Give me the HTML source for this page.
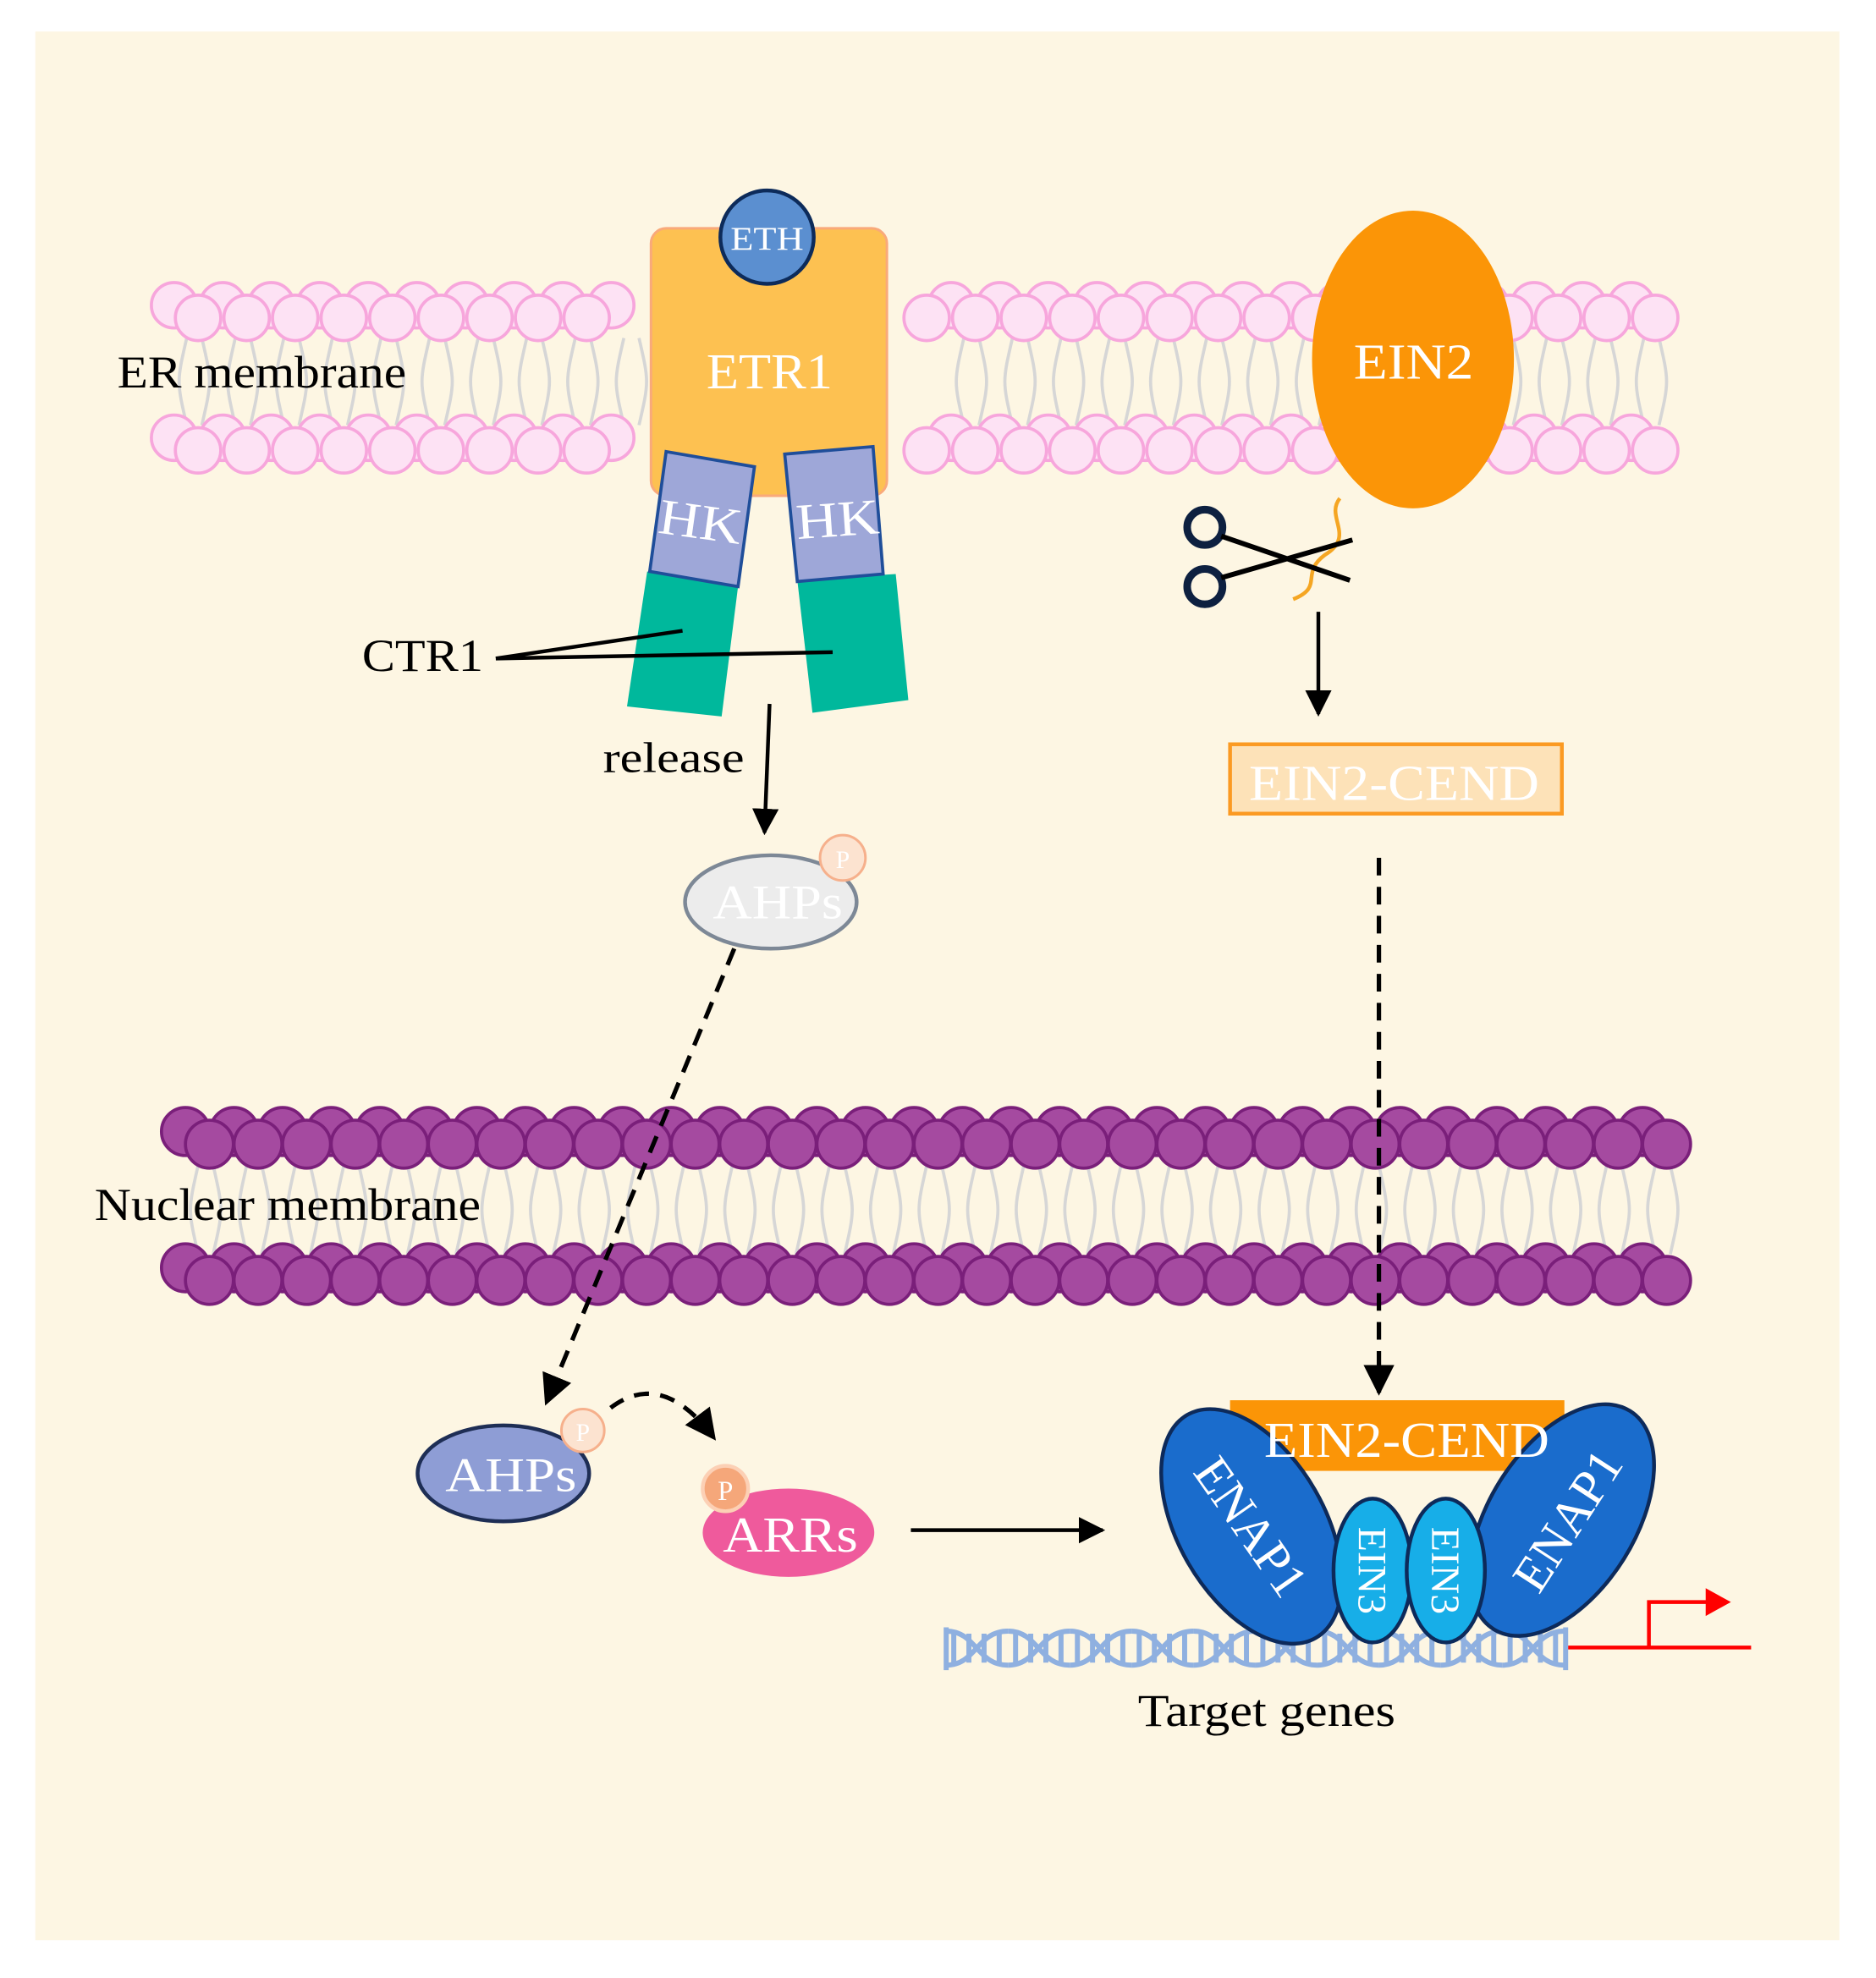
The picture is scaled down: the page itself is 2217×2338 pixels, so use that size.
<!DOCTYPE html>
<html><head><meta charset="utf-8"><style>
html,body{margin:0;padding:0;background:#fff;}
svg{display:block}
text{font-family:"Liberation Serif",serif;}
</style></head><body>
<svg id="s" xmlns="http://www.w3.org/2000/svg" width="2217" height="2338" viewBox="0 0 1487 1568" preserveAspectRatio="none">
<defs>
<marker id="ah" viewBox="0 0 10 10" refX="9" refY="5" markerWidth="7" markerHeight="7" orient="auto"><path d="M0,0 L10,5 L0,10 z" fill="#000"/></marker>
</defs>
<rect x="28" y="25" width="1430" height="1513" fill="#fdf6e3"/>
<g id="er"></g>
<g id="nm"></g>

<!-- ETR1 -->
<rect x="516" y="181" width="187" height="212" rx="12" fill="#fdc151" stroke="#f9a97a" stroke-width="2"/>
<text x="560" y="308" font-size="40" fill="#fff" textLength="100" lengthAdjust="spacingAndGlyphs">ETR1</text>
<circle cx="608" cy="188" r="37" fill="#5b8fd0" stroke="#0d2b5a" stroke-width="3"/>
<text x="579" y="198" font-size="26" fill="#fff" textLength="58" lengthAdjust="spacingAndGlyphs">ETH</text>
<!-- HK + CTR1 -->
<polygon points="513,453 585,465 572,568 497,560" fill="#00b89c"/>
<polygon points="632,460 710,455 720,555 644,565" fill="#00b89c"/>
<polygon points="528,358 598,370 585,465 515,453" fill="#9ea7d8" stroke="#1f4e9a" stroke-width="2.5"/>
<polygon points="622,360 692,354 700,455 632,461" fill="#9ea7d8" stroke="#1f4e9a" stroke-width="2.5"/>
<text x="522" y="427" font-size="40" fill="#fff" textLength="66" lengthAdjust="spacingAndGlyphs" transform="rotate(8 556 415)">HK</text>
<text x="631" y="425" font-size="40" fill="#fff" textLength="66" lengthAdjust="spacingAndGlyphs" transform="rotate(-4 664 413)">HK</text>
<text x="93" y="307" font-size="36" fill="#000" textLength="229" lengthAdjust="spacingAndGlyphs">ER membrane</text>
<text x="287" y="532" font-size="36" fill="#000" textLength="96" lengthAdjust="spacingAndGlyphs">CTR1</text>
<line x1="393" y1="522" x2="541" y2="500" stroke="#000" stroke-width="3"/>
<line x1="393" y1="522" x2="660" y2="517" stroke="#000" stroke-width="3"/>
<text x="478" y="612" font-size="34" fill="#000" textLength="112" lengthAdjust="spacingAndGlyphs">release</text>
<line x1="610" y1="558" x2="606" y2="660" stroke="#000" stroke-width="3" marker-end="url(#ah)"/>
<!-- AHPs top -->
<ellipse cx="611" cy="715" rx="68" ry="37" fill="#ececec" stroke="#7d8896" stroke-width="3"/>
<text x="565" y="728" font-size="38" fill="#fff" textLength="103" lengthAdjust="spacingAndGlyphs">AHPs</text>
<circle cx="668" cy="680" r="18" fill="#fce3d0" stroke="#f6b08c" stroke-width="2"/>
<text x="668" y="688" font-size="20" fill="#fff" text-anchor="middle">P</text>
<line x1="582" y1="752" x2="433" y2="1112" stroke="#000" stroke-width="3.5" stroke-dasharray="14,9" marker-end="url(#ah)"/>

<!-- EIN2 -->
<ellipse cx="1120" cy="285" rx="80" ry="118" fill="#fb9507"/>
<text x="1073" y="300" font-size="40" fill="#fff" textLength="95" lengthAdjust="spacingAndGlyphs">EIN2</text>
<path d="M1062,395 C1050,410 1075,425 1050,440 C1030,455 1050,465 1025,475" fill="none" stroke="#f5a623" stroke-width="3"/>
<circle cx="955" cy="418" r="14" fill="none" stroke="#0d2040" stroke-width="6"/>
<circle cx="955" cy="465" r="14" fill="none" stroke="#0d2040" stroke-width="6"/>
<line x1="968" y1="425" x2="1070" y2="460" stroke="#000" stroke-width="4"/>
<line x1="968" y1="458" x2="1072" y2="428" stroke="#000" stroke-width="4"/>
<line x1="1045" y1="485" x2="1045" y2="566" stroke="#000" stroke-width="3" marker-end="url(#ah)"/>
<rect x="975" y="590" width="263" height="55" fill="#fde2b8" stroke="#fb9a22" stroke-width="3"/>
<text x="990" y="634" font-size="40" fill="#fff" textLength="230" lengthAdjust="spacingAndGlyphs">EIN2-CEND</text>
<line x1="1093" y1="680" x2="1093" y2="1104" stroke="#000" stroke-width="3.5" stroke-dasharray="14,9" marker-end="url(#ah)"/>

<text x="75" y="967" font-size="36" fill="#000" textLength="306" lengthAdjust="spacingAndGlyphs">Nuclear membrane</text>

<!-- AHPs lower -->
<ellipse cx="399" cy="1168" rx="68" ry="38" fill="#8e9dd5" stroke="#1e2e55" stroke-width="3"/>
<text x="353" y="1182" font-size="38" fill="#fff" textLength="104" lengthAdjust="spacingAndGlyphs">AHPs</text>
<circle cx="462" cy="1134" r="17" fill="#fce3d0" stroke="#f6b08c" stroke-width="2"/>
<text x="462" y="1142" font-size="20" fill="#fff" text-anchor="middle">P</text>
<path d="M484,1116 Q525,1085 566,1140" fill="none" stroke="#000" stroke-width="3.5" stroke-dasharray="12,9" marker-end="url(#ah)"/>
<ellipse cx="625" cy="1215" rx="68" ry="35" fill="#ef5a9c"/>
<text x="573" y="1230" font-size="40" fill="#fff" textLength="107" lengthAdjust="spacingAndGlyphs">ARRs</text>
<circle cx="575" cy="1180" r="18" fill="#f5a77a" stroke="#fcd0b5" stroke-width="3"/>
<text x="575" y="1189" font-size="22" fill="#fff" text-anchor="middle">P</text>
<line x1="722" y1="1213" x2="874" y2="1213" stroke="#000" stroke-width="3" marker-end="url(#ah)"/>

<!-- DNA -->
<g id="dna" stroke="#8fb0e0" fill="none"></g>
<path d="M1243,1306 H1388 M1307,1306 V1270 H1355" stroke="#f00" stroke-width="3" fill="none"/>
<polygon points="1352,1259 1372,1270 1352,1281" fill="#f00"/>
<!-- complex -->
<rect x="975" y="1110" width="265" height="56" fill="#fb9507"/>
<ellipse cx="992" cy="1210" rx="58" ry="102" transform="rotate(-30 992 1210)" fill="#1a6ccc" stroke="#0d2a5a" stroke-width="3"/>
<ellipse cx="1238" cy="1205" rx="58" ry="102" transform="rotate(32 1238 1205)" fill="#1a6ccc" stroke="#0d2a5a" stroke-width="3"/>
<ellipse cx="1088" cy="1245" rx="31" ry="57" fill="#17aee8" stroke="#0d2a5a" stroke-width="3"/>
<ellipse cx="1146" cy="1245" rx="31" ry="57" fill="#17aee8" stroke="#0d2a5a" stroke-width="3"/>
<text x="1002" y="1155" font-size="40" fill="#fff" textLength="226" lengthAdjust="spacingAndGlyphs">EIN2-CEND</text>
<text x="992" y="1224" font-size="40" fill="#fff" text-anchor="middle" transform="rotate(55 992 1210)">ENAP1</text>
<text x="1242" y="1219" font-size="40" fill="#fff" text-anchor="middle" transform="rotate(-57 1242 1205)">ENAP1</text>
<text x="1088" y="1256" font-size="32" fill="#fff" text-anchor="middle" transform="rotate(90 1088 1245)">EIN3</text>
<text x="1146" y="1256" font-size="32" fill="#fff" text-anchor="middle" transform="rotate(90 1146 1245)">EIN3</text>
<text x="902" y="1368" font-size="36" fill="#000" textLength="204" lengthAdjust="spacingAndGlyphs">Target genes</text>
</svg>
<script>
var NS="http://www.w3.org/2000/svg";
function el(p,t,a){var e=document.createElementNS(NS,t);for(var k in a)e.setAttribute(k,a[k]);p.appendChild(e);return e;}
function mem(id,x0,x1,yTop,yBot,r,fill,stroke,skip){
 var g=document.getElementById(id);
 for(var x=x0;x<=x1;x+=38.5){
  if(skip&&x>skip[0]&&x<skip[1])continue;
  el(g,"path",{d:"M"+(x+10)+","+(yTop+r)+" C"+(x+2)+","+((yTop+yBot)/2)+" "+(x+2)+","+((yTop+yBot)/2)+" "+(x+10)+","+(yBot-r),stroke:"#d6d6d6","stroke-width":"2.5",fill:"none"});
  el(g,"path",{d:"M"+(x+22)+","+(yTop+r)+" C"+(x+30)+","+((yTop+yBot)/2)+" "+(x+30)+","+((yTop+yBot)/2)+" "+(x+22)+","+(yBot-r),stroke:"#d6d6d6","stroke-width":"2.5",fill:"none"});
 }
 for(var x=x0;x<=x1;x+=38.5){
  if(skip&&x>skip[0]&&x<skip[1])continue;
  el(g,"circle",{cx:x,cy:yTop-8,r:r,fill:fill,stroke:stroke,"stroke-width":"2.5"});
  el(g,"circle",{cx:x,cy:yBot-8,r:r,fill:fill,stroke:stroke,"stroke-width":"2.5"});
 }
 for(var x=x0+19;x<=x1+19;x+=38.5){
  if(skip&&x>skip[0]&&x<skip[1])continue;
  el(g,"circle",{cx:x,cy:yTop+2,r:r,fill:fill,stroke:stroke,"stroke-width":"2.5"});
  el(g,"circle",{cx:x,cy:yBot+2,r:r,fill:fill,stroke:stroke,"stroke-width":"2.5"});
 }
}
mem("er",138,1322,250,355,18,"#fde2f4","#f7a6dc",[500,720]);
mem("nm",147,1332,905,1013,19,"#a54aa0","#7a1f7a",null);
var d=document.getElementById("dna");
for(var x=750;x+48<=1244;x+=49){
 el(d,"path",{d:"M"+x+",1293 C"+(x+24)+",1293 "+(x+24)+",1320 "+(x+49)+",1320","stroke-width":"4"});
 el(d,"path",{d:"M"+x+",1320 C"+(x+24)+",1320 "+(x+24)+",1293 "+(x+49)+",1293","stroke-width":"4"});
 for(var k=6;k<49;k+=12) el(d,"line",{x1:x+k,y1:1295,x2:x+k,y2:1318,"stroke-width":"4"});
}
el(d,"line",{x1:750,y1:1290,x2:750,y2:1324,"stroke-width":"4"});
el(d,"line",{x1:1241,y1:1290,x2:1241,y2:1324,"stroke-width":"4"});
</script>
</body></html>
